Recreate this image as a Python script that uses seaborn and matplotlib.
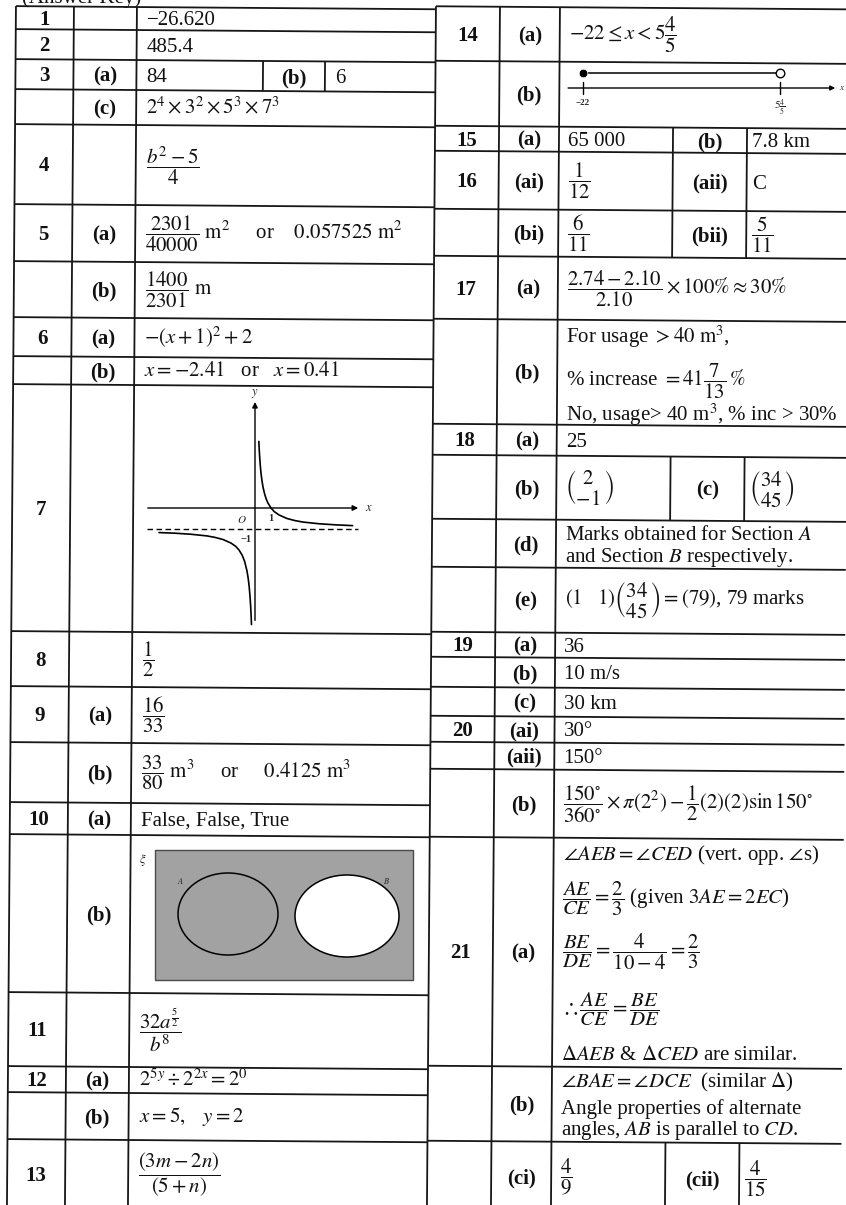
import numpy as np
import pandas as pd
import matplotlib.pyplot as plt
import matplotlib.patches as mpatches
import matplotlib.transforms as mtransforms
import seaborn as sns

# Set plotting style
sns.set_theme(style="white")
plt.rcParams['font.family'] = ['Liberation Serif', 'DejaVu Serif']
plt.rcParams['mathtext.fontset'] = 'stix'

W, H = 846, 1205
FS = 15
SKEW = 0.0075  # the scanned page is tilted a little

# ---------------- data: left table ----------------
left_nums = ["1", "2", "3", "", "4", "5", "", "6", "", "7", "8", "9", "",
             "10", "", "11", "12", "", "13"]
left_parts = ["", "", "(a)", "(c)", "", "(a)", "(b)", "(a)", "(b)", "", "",
              "(a)", "(b)", "(a)", "(b)", "", "(a)", "(b)", ""]
left_answers = [
    "\u221226.620",
    "485.4",
    ("84", "(b)", "6"),
    r"$2^4\times3^2\times5^3\times7^3$",
    r"$\dfrac{b^2-5}{4}$",
    r"$\dfrac{2301}{40000}\ \mathrm{m}^2$     or    $0.057525\ \mathrm{m}^2$",
    r"$\dfrac{1400}{2301}\ \mathrm{m}$",
    r"$-\left(x+1\right)^2+2$",
    r"$x=-2.41$   or   $x=0.41$",
    "GRAPH",
    r"$\dfrac{1}{2}$",
    r"$\dfrac{16}{33}$",
    r"$\dfrac{33}{80}\ \mathrm{m}^3$     or     $0.4125\ \mathrm{m}^3$",
    "False, False, True",
    "VENN",
    r"$\dfrac{32a^{\frac{5}{2}}}{b^8}$",
    r"$2^{5y}\div2^{2x}=2^0$",
    r"$x=5,\quad y=2$",
    r"$\dfrac{\left(3m-2n\right)}{\left(5+n\right)}$",
]

# ---------------- data: right table ----------------
right_nums = ["14", "", "15", "16", "", "17", "", "18", "", "", "", "19", "", "",
              "20", "", "", "21", "", ""]
right_parts = ["(a)", "(b)", "(a)", "(ai)", "(bi)", "(a)", "(b)", "(a)", "(b)", "(d)",
               "(e)", "(a)", "(b)", "(c)", "(ai)", "(aii)", "(b)", "(a)", "(b)", "(ci)"]
right_answers = [
    r"$-22\leq x<5\dfrac{4}{5}$",
    "NUMLINE",
    ("65 000", "(b)", "7.8 km"),
    (r"$\dfrac{1}{12}$", "(aii)", "C"),
    (r"$\dfrac{6}{11}$", "(bii)", r"$\dfrac{5}{11}$"),
    r"$\dfrac{2.74-2.10}{2.10}\times100\%\approx30\%$",
    [r"For usage $>40\ \mathrm{m}^3$,",
     r"% increase $=41\dfrac{7}{13}\,\%$",
     r"No, usage> 40 m$^3$, % inc > 30%"],
    "25",
    (r"$\genfrac{(}{)}{0}{0}{2}{-1}$", "(c)", r"$\genfrac{(}{)}{0}{0}{34}{45}$"),
    [r"Marks obtained for Section $A$", r"and Section $B$ respectively."],
    r"$(1\quad1)\genfrac{(}{)}{0}{0}{34}{45}=(79)$, 79 marks",
    "36",
    "10 m/s",
    "30 km",
    "30\u00b0",
    "150\u00b0",
    r"$\dfrac{150^{\circ}}{360^{\circ}}\times\pi\left(2^2\right)-\dfrac{1}{2}(2)(2)\sin150^{\circ}$",
    [r"$\angle AEB=\angle CED$ (vert. opp. $\angle$s)",
     r"$\dfrac{AE}{CE}=\dfrac{2}{3}$ (given $3AE=2EC$)",
     r"$\dfrac{BE}{DE}=\dfrac{4}{10-4}=\dfrac{2}{3}$",
     r"$\therefore\dfrac{AE}{CE}=\dfrac{BE}{DE}$",
     r"$\Delta AEB$ & $\Delta CED$ are similar."],
    [r"$\angle BAE=\angle DCE$  (similar $\Delta$)",
     "Angle properties of alternate",
     r"angles, $AB$ is parallel to $CD$."],
    (r"$\dfrac{4}{9}$", "(cii)", r"$\dfrac{4}{15}$"),
]

# Q7 sketch: points (x, y)
hyp_right_x = [0.24, 0.26, 0.28, 0.31, 0.34, 0.38, 0.43, 0.5, 0.6, 0.7, 0.8, 1.0,
               1.2, 1.5, 2.0, 2.5, 3.0, 4.0, 5.0, 6.1]
hyp_right_y = [3.17, 2.85, 2.57, 2.23, 1.94, 1.63, 1.33, 1.0, 0.67, 0.43, 0.25, 0.0,
               -0.17, -0.33, -0.5, -0.6, -0.67, -0.75, -0.8, -0.84]
hyp_left_x = [-6.0, -5.0, -4.0, -3.0, -2.5, -2.0, -1.5, -1.2, -1.0, -0.8, -0.65, -0.5,
              -0.42, -0.36, -0.31, -0.27, -0.24, -0.22]
hyp_left_y = [-1.17, -1.2, -1.25, -1.33, -1.4, -1.5, -1.67, -1.83, -2.0, -2.25, -2.54,
              -3.0, -3.38, -3.78, -4.23, -4.7, -5.17, -5.55]
asymptote_y = -1

# Q14 number line end points
numline_ends = [-22, 5.8]

# ---------------- layout (nominal page coords, px) ----------------
left_cols = [16, 74, 137, 436]
left_edges = [6, 29, 59, 89, 124, 204, 261, 317, 356, 384, 631, 686, 742, 802, 834,
              992, 1066, 1092, 1139, 1208]
left_splits = [263.5, 325.5]
right_cols = [436, 500, 560, 850]
right_edges = [3, 57.5, 122.5, 147.5, 205.5, 252.5, 315.5, 420.5, 451.5, 515.5, 563.5,
               628.5, 653.5, 683.5, 712.5, 738.5, 765.5, 833.5, 1062.5, 1137.5, 1208]
right_splits = [674, 748]
multi_y = {6: [333, 377, 411], 9: [531, 553], 17: [851, 895, 948, 1005, 1051],
           18: [1078, 1103, 1126]}
LINE = dict(color="#161616", lw=1.3, solid_capstyle="butt")
INK = "#111111"

fig = plt.figure(figsize=(W / 100, H / 100), dpi=100)
ax = fig.add_axes([0, 0, 1, 1])
ax.set_xlim(0, W)
ax.set_ylim(H, 0)
ax.axis("off")
rot = mtransforms.Affine2D().rotate(SKEW) + ax.transData


def put(x, y, s, **kw):
    # plain text sits a little high with va='center', nudge it down
    dy = 0 if "$" in s else 2
    ax.text(x, y + dy, s, fontsize=FS, va="center", color=INK, transform=rot, **kw)


def draw_table(cols, edges, splits, nums, parts, answers, pad, split_pad, multi):
    for i in range(len(nums)):
        top, bot = edges[i], edges[i + 1]
        mid = (top + bot) / 2
        ax.plot([cols[0], cols[-1]], [top, top], transform=rot, **LINE)
        put((cols[0] + cols[1]) / 2, mid, nums[i], fontweight="bold", ha="center")
        put((cols[1] + cols[2]) / 2, mid, parts[i], fontweight="bold", ha="center")
        ans = answers[i]
        if isinstance(ans, tuple):
            for s in splits:
                ax.plot([s, s], [top, bot], transform=rot, **LINE)
            put(cols[2] + pad, mid, ans[0])
            put((splits[0] + splits[1]) / 2, mid, ans[1], fontweight="bold",
                ha="center")
            put(splits[1] + split_pad, mid, ans[2])
        elif isinstance(ans, list):
            for txt, yy in zip(ans, multi[i]):
                put(cols[2] + pad, yy, txt)
        elif ans not in ("GRAPH", "VENN", "NUMLINE"):
            put(cols[2] + pad, mid, ans)
    for c in cols[:-1]:
        ax.plot([c, c], [edges[0], edges[-1]], transform=rot, **LINE)


draw_table(left_cols, left_edges, left_splits, left_nums, left_parts, left_answers,
           10, 10, {})
draw_table(right_cols, right_edges, right_splits, right_nums, right_parts,
           right_answers, 9, 5, multi_y)

# cut-off heading at the very top
ax.text(22, 3, "(Answer Key)", fontsize=FS, va="baseline", color=INK)

# ---------------- Q7 graph ----------------
gax = fig.add_axes([140 / W, 1 - 632 / H, 240 / W, 242 / H])
gax.set_xlim(-7.1875, 7.8125)
gax.set_ylim(-5.905, 5.619)
gax.axis("off")
arrow = dict(arrowstyle="-|>", color="black", lw=1.0, mutation_scale=8,
             shrinkA=0, shrinkB=0)
gax.annotate("", xy=(6.45, 0), xytext=(-6.7, 0), arrowprops=arrow)
gax.annotate("", xy=(0, 5.05), xytext=(0, -5.35), arrowprops=arrow)
gax.plot([-6.75, 6.45], [asymptote_y, asymptote_y], color="black", lw=1.0,
         dashes=(4, 2.5))
sns.lineplot(x=hyp_right_x, y=hyp_right_y, color="black", lw=1.2, ax=gax)
sns.lineplot(x=hyp_left_x, y=hyp_left_y, color="black", lw=1.2, ax=gax)
gax.text(0, 5.15, "$y$", fontsize=9, ha="center", va="bottom")
gax.text(6.9, 0, "$x$", fontsize=9, ha="left", va="center")
gax.text(-0.85, -0.55, "$O$", fontsize=8, ha="center", va="center")
gax.text(1.0, -0.5, "1", fontsize=7.5, fontweight="bold", ha="center", va="center")
gax.text(-0.55, -1.5, "\u22121", fontsize=7.5, fontweight="bold", ha="center",
         va="center")

# ---------------- Q14(b) number line ----------------
nax = fig.add_axes([562 / W, 1 - 126 / H, 284 / W, 63 / H])
nax.set_xlim(-24.96, 15.12)
nax.set_ylim(126, 63)
nax.axis("off")
nax.annotate("", xy=(13.6, 88), xytext=(-24.1, 88),
             arrowprops=dict(arrowstyle="-|>", color="black", lw=1.0,
                             mutation_scale=7, shrinkA=0, shrinkB=0))
for v in numline_ends:
    nax.plot([v, v], [82, 94], color="black", lw=1.0)
sns.lineplot(x=numline_ends, y=[73, 73], color="black", lw=1.1, ax=nax)
sns.scatterplot(x=numline_ends[:1], y=[73], s=38, color="black", ax=nax, zorder=3)
sns.scatterplot(x=numline_ends[1:], y=[73], s=38, color="white", edgecolor="black",
                linewidth=1.0, ax=nax, zorder=3)
nax.text(numline_ends[0], 103, "\u221222", fontsize=6.5, fontweight="bold",
         ha="center", va="center")
nax.text(numline_ends[1], 108, r"$5\frac{4}{5}$", fontsize=8, ha="center",
         va="center")
nax.text(14.6, 88, "$x$", fontsize=6.5, ha="center", va="center")

# ---------------- Q10(b) Venn diagram ----------------
grey = "#a2a2a2"
ax.add_patch(mpatches.Rectangle((155, 850), 258, 130, facecolor=grey,
                                edgecolor="#4a4a4a", lw=1.0))
ax.add_patch(mpatches.Ellipse((228, 914), 100, 82, facecolor=grey,
                              edgecolor="black", lw=1.1))
ax.add_patch(mpatches.Ellipse((347, 916), 104, 82, facecolor="white",
                              edgecolor="black", lw=1.1))
ax.text(143, 860, r"$\xi$", fontsize=9, ha="center", va="center")
ax.text(181, 881, "$A$", fontsize=6, ha="center", va="center", color="#222")
ax.text(386, 881, "$B$", fontsize=6, ha="center", va="center", color="#222")

plt.savefig("out.png", dpi=100)
